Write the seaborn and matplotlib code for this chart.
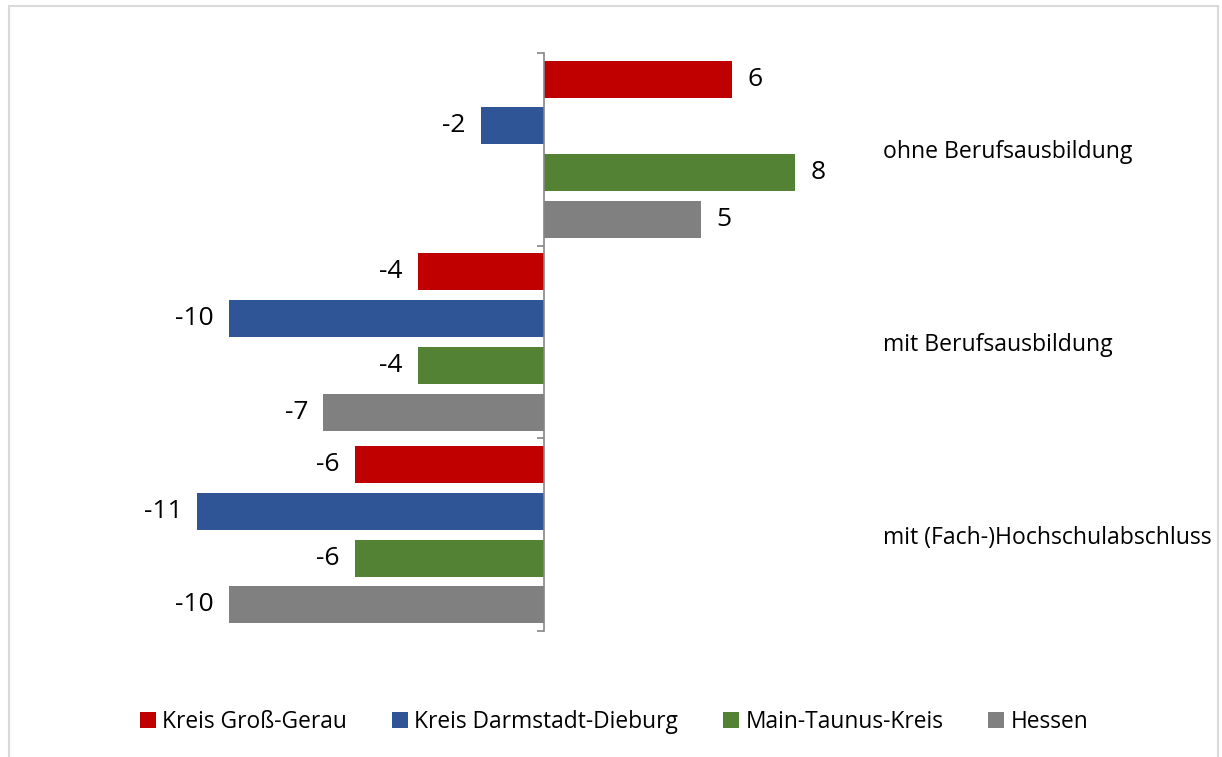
import pandas as pd
import seaborn as sns
import matplotlib.pyplot as plt
from matplotlib.patches import Patch, Rectangle
import matplotlib.transforms as mtransforms

# Daten
kategorien = ['ohne Berufsausbildung', 'mit Berufsausbildung', 'mit (Fach-)Hochschulabschluss']
regionen = ['Kreis Groß-Gerau', 'Kreis Darmstadt-Dieburg', 'Main-Taunus-Kreis', 'Hessen']
gross_gerau = [6, -4, -6]
darmstadt_dieburg = [-2, -10, -11]
main_taunus = [8, -4, -6]
hessen = [5, -7, -10]
farben = ['#C00000', '#2F5597', '#548235', '#808080']

werte = {
    'Kreis Groß-Gerau': gross_gerau,
    'Kreis Darmstadt-Dieburg': darmstadt_dieburg,
    'Main-Taunus-Kreis': main_taunus,
    'Hessen': hessen,
}
rows = []
for reg in regionen:
    for kat, v in zip(kategorien, werte[reg]):
        rows.append({'Kategorie': kat, 'Region': reg, 'Wert': v})
df = pd.DataFrame(rows)

sns.set_theme(style='white')
plt.rcParams['font.family'] = ['Open Sans', 'DejaVu Sans']

fig = plt.figure(figsize=(12.22, 7.57), dpi=100)
W, H = 1222, 757
ax = fig.add_axes([166 / W, (H - 631) / H, 755 / W, 578 / H])

sns.barplot(data=df, x='Wert', y='Kategorie', hue='Region', order=kategorien,
            hue_order=regionen, palette=farben, saturation=1, orient='h',
            width=0.971, gap=0.21, linewidth=0, legend=False, ax=ax)

ax.set_xlim(-12, 12)
ax.set_ylim(2.5, -0.5)

for c in ax.containers:
    ax.bar_label(c, fmt='%g', padding=11, fontsize=19, color='black')

# Achse bei 0
for s in ['top', 'right', 'bottom']:
    ax.spines[s].set_visible(False)
ax.spines['left'].set_position(('data', 0))
ax.spines['left'].set_color('#868686')
ax.spines['left'].set_linewidth(1.2)
ax.set_yticks([-0.5, 0.5, 1.5, 2.5])
ax.set_yticklabels([])
ax.tick_params(axis='y', direction='out', length=5, width=1.2, color='#868686', left=True)
ax.set_xticks([])
ax.set_xlabel('')
ax.set_ylabel('')

# Kategorienbeschriftung rechts
trans = mtransforms.blended_transform_factory(fig.transFigure, ax.transData)
for i, kat in enumerate(kategorien):
    ax.text(883 / W, i, kat, transform=trans, ha='left', va='center_baseline',
            fontsize=16.6, color='black')

# Legende
handles = [Patch(facecolor=f, edgecolor='none', label=r) for f, r in zip(farben, regionen)]
fig.legend(handles=handles, loc='center', bbox_to_anchor=(614 / W, (H - 722) / H),
           ncol=4, frameon=False, fontsize=16.4, handlelength=0.7, handleheight=0.7,
           handletextpad=0.3, columnspacing=1.95, labelcolor='black')

# Rahmen
fig.patches.append(Rectangle((8.5 / W, -0.1), (1218 - 8.5) / W, 1.1 - 6.5 / H,
                             transform=fig.transFigure, fill=False,
                             edgecolor='#D9D9D9', linewidth=1.5))

fig.savefig('out.png', dpi=100)
